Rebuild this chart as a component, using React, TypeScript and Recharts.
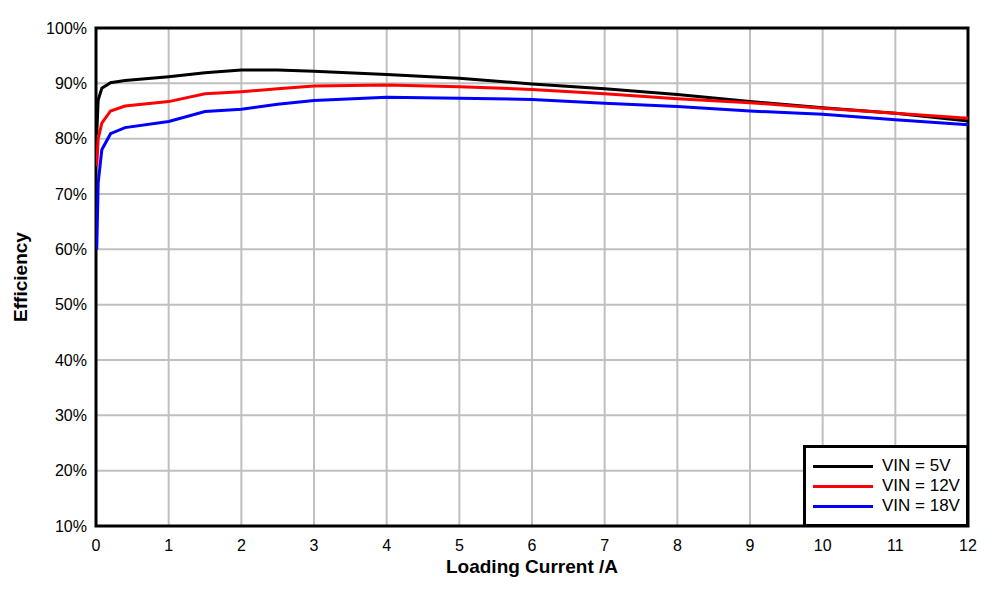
import React from "react";
import {
  LineChart,
  Line,
  XAxis,
  YAxis,
  CartesianGrid,
  Legend,
  ReferenceArea,
} from "recharts";

const loadCurrent = [0.01, 0.03, 0.08, 0.2, 0.4, 1, 1.5, 2, 2.5, 3, 4, 5, 6, 7, 8, 9, 10, 11, 12];
const vin5 = [80.7, 87.0, 89.1, 90.1, 90.5, 91.2, 91.9, 92.4, 92.4, 92.2, 91.6, 90.9, 89.9, 89.0, 88.0, 86.7, 85.6, 84.6, 83.2];
const vin12 = [75.0, 80.0, 82.8, 85.0, 85.9, 86.7, 88.1, 88.5, 89.0, 89.5, 89.7, 89.4, 88.9, 88.1, 87.2, 86.5, 85.5, 84.6, 83.7];
const vin18 = [60.0, 72.0, 78.0, 80.9, 82.0, 83.1, 84.9, 85.3, 86.2, 86.9, 87.5, 87.3, 87.1, 86.4, 85.8, 85.0, 84.4, 83.4, 82.5];

const xTicks = [0, 1, 2, 3, 4, 5, 6, 7, 8, 9, 10, 11, 12];
const yTicks = [10, 20, 30, 40, 50, 60, 70, 80, 90, 100];

const seriesNames = ["VIN = 5V", "VIN = 12V", "VIN = 18V"];
const seriesColors = ["#000000", "#ff0000", "#0000ff"];
const seriesKeys = ["v5", "v12", "v18"];

const data = loadCurrent.map((x, i) => ({ x, v5: vin5[i], v12: vin12[i], v18: vin18[i] }));

const FONT = "'Liberation Sans', Arial, sans-serif";

const LegendBox = () => (
  <div
    style={{
      boxSizing: "border-box",
      width: 166,
      height: 82,
      border: "3px solid #000",
      background: "#fff",
      paddingTop: 8,
      fontFamily: FONT,
    }}
  >
    {seriesNames.map((name, i) => (
      <div key={name} style={{ display: "flex", alignItems: "center", height: 20 }}>
        <div style={{ marginLeft: 7, width: 60, height: 3, background: seriesColors[i] }} />
        <span style={{ marginLeft: 9, fontSize: 17, color: "#000", lineHeight: "20px" }}>{name}</span>
      </div>
    ))}
  </div>
);

const YTitle = (props: any) => {
  const vb = props.viewBox || { x: 0, y: 28, width: 96, height: 498 };
  const cx = vb.x + 20;
  const cy = vb.y + vb.height / 2;
  return (
    <text
      x={cx}
      y={cy}
      transform={`rotate(-90 ${cx} ${cy})`}
      textAnchor="middle"
      dominantBaseline="central"
      fontFamily={FONT}
      fontWeight="bold"
      fontSize={19}
      fill="#000"
    >
      Efficiency
    </text>
  );
};

export default function App() {
  return (
    <div style={{ position: "absolute", left: 0, top: 0, background: "#fff" }}>
      <LineChart
        width={996}
        height={589}
        data={data}
        margin={{ top: 28, right: 28, left: 0, bottom: 0 }}
        style={{ fontFamily: FONT }}
      >
        <CartesianGrid stroke="#c0c0c0" strokeWidth={2} />
        <XAxis
          dataKey="x"
          type="number"
          domain={[0, 12]}
          ticks={xTicks}
          allowDataOverflow
          height={63}
          tickLine={false}
          tickSize={0}
          tickMargin={14}
          axisLine={false}
          tick={{ fill: "#000", fontSize: 16, fontFamily: FONT }}
          label={{
            value: "Loading Current /A",
            position: "insideBottom",
            offset: 16,
            fill: "#000",
            fontSize: 19,
            fontWeight: "bold",
            fontFamily: FONT,
          }}
        />
        <YAxis
          type="number"
          domain={[10, 100]}
          ticks={yTicks}
          allowDataOverflow
          width={96}
          tickLine={false}
          tickSize={0}
          tickMargin={9}
          axisLine={false}
          tickFormatter={(v: number) => `${v}%`}
          tick={{ fill: "#000", fontSize: 16, fontFamily: FONT }}
          label={<YTitle />}
        />
        {seriesKeys.map((k, i) => (
          <Line
            key={k}
            type="linear"
            dataKey={k}
            name={seriesNames[i]}
            stroke={seriesColors[i]}
            strokeWidth={3}
            dot={false}
            activeDot={false}
            isAnimationActive={false}
          />
        ))}
        <ReferenceArea x1={0} x2={12} y1={10} y2={100} fill="none" stroke="#000" strokeWidth={3} />
        <Legend
          layout="vertical"
          align="center"
          verticalAlign="middle"
          content={<LegendBox />}
          wrapperStyle={{ left: 803, top: 445, width: 166, height: 82 }}
        />
      </LineChart>
    </div>
  );
}
